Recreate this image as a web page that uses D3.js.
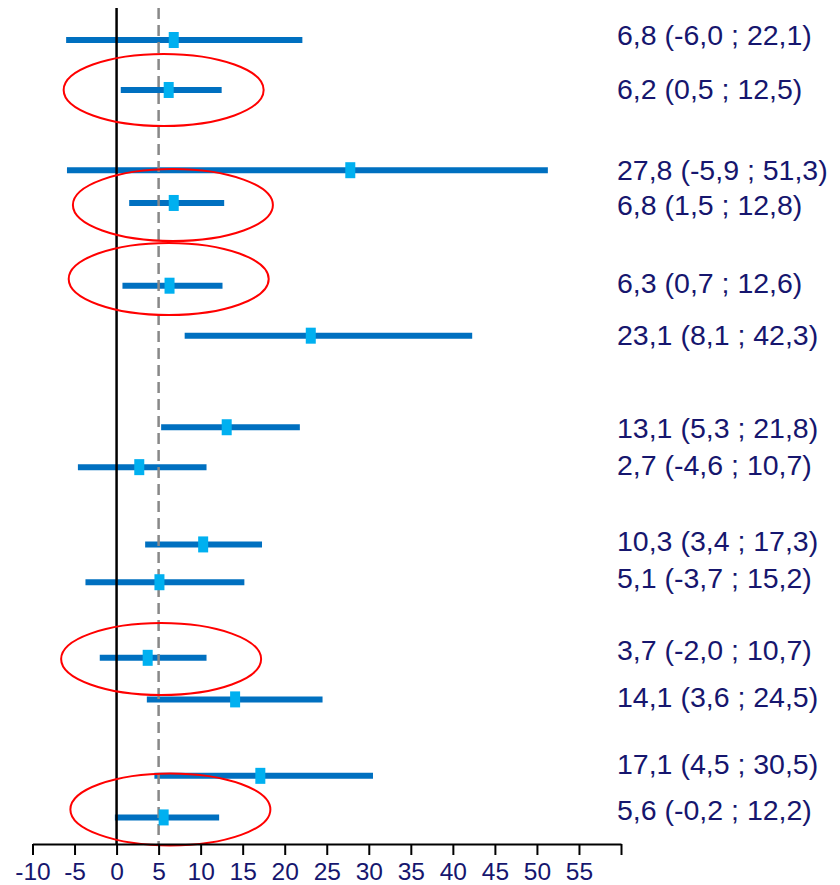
<!DOCTYPE html>
<html>
<head>
<meta charset="utf-8">
<script src="https://cdn.jsdelivr.net/npm/d3@7"></script>
<style>
  html, body { margin: 0; padding: 0; background: #fff; }
  svg { display: block; }
</style>
</head>
<body>
<script>
// Point estimates with their confidence intervals, one entry per row (top to bottom)
const estimate = [6.8, 6.2, 27.8, 6.8, 6.3, 23.1, 13.1, 2.7, 10.3, 5.1, 3.7, 14.1, 17.1, 5.6];
const lower    = [-6.0, 0.5, -5.9, 1.5, 0.7, 8.1, 5.3, -4.6, 3.4, -3.7, -2.0, 3.6, 4.5, -0.2];
const upper    = [22.1, 12.5, 51.3, 12.8, 12.6, 42.3, 21.8, 10.7, 17.3, 15.2, 10.7, 24.5, 30.5, 12.2];

// Vertical slot of each row (rows come in loose groups) and of its text
const rowSlot   = [0, 1.19, 3.10, 3.88, 5.85, 7.04, 9.22, 10.17, 12.01, 12.91, 14.71, 15.70, 17.52, 18.51];
const labelSlot = [-0.13, 1.16, 3.09, 3.92, 5.79, 7.01, 9.23, 10.11, 11.93, 12.80, 14.52, 15.64, 17.24, 18.33];

// Rows circled in red: row index, ellipse centre on the value axis and slot axis
const highlightRows = [1, 3, 4, 10, 13];
const highlightX    = [5.6, 6.7, 6.2, 5.3, 6.4];
const highlightSlot = [1.19, 3.93, 5.69, 14.74, 18.32];

// Reference value drawn as a dashed line
const referenceValue = 5;

// Axis ticks and their labels
const tickValues = [-10, -5, 0, 5, 10, 15, 20, 25, 30, 35, 40, 45, 50, 55, 60];
const tickLabels = ["-10", "-5", "0", "5", "10", "15", "20", "25", "30", "35", "40", "45", "50", "55", ""];

const W = 840, H = 885;
const axisY = 844;
const textColor = "#16166e";
// One decimal, comma as decimal mark, plain hyphen for negatives
const fmt = v => v.toFixed(1).replace(".", ",");

const svg = d3.select("body").append("svg")
  .attr("width", W).attr("height", H)
  .style("font-family", "'Liberation Sans', Arial, sans-serif");

svg.append("rect").attr("width", W).attr("height", H).attr("fill", "#fff");

const x = d3.scaleLinear().domain([-10, 60]).range([32.5, 621]);
const y = d3.scaleLinear().domain([0, 19]).range([40, 838]);

const rows = estimate.map((e, i) => ({
  est: e, lo: lower[i], hi: upper[i], slot: rowSlot[i], labelSlot: labelSlot[i]
}));

// Interval bars
svg.append("g").selectAll("line")
  .data(rows).join("line")
  .attr("x1", d => x(d.lo)).attr("x2", d => x(d.hi))
  .attr("y1", d => y(d.slot)).attr("y2", d => y(d.slot))
  .attr("stroke", "#0070c0").attr("stroke-width", 6);

// Zero line and reference line
svg.append("line")
  .attr("x1", x(0)).attr("x2", x(0)).attr("y1", 8).attr("y2", axisY)
  .attr("stroke", "#000").attr("stroke-width", 2.5);
svg.append("line")
  .attr("x1", x(referenceValue)).attr("x2", x(referenceValue)).attr("y1", 8).attr("y2", axisY)
  .attr("stroke", "#888").attr("stroke-width", 2.5).attr("stroke-dasharray", "11,6");

// Point estimate markers
svg.append("g").selectAll("rect")
  .data(rows).join("rect")
  .attr("x", d => x(d.est) - 5).attr("y", d => y(d.slot) - 8)
  .attr("width", 10).attr("height", 16)
  .attr("fill", "#00b0f0");

// Value labels on the right
svg.append("g").selectAll("text")
  .data(rows).join("text")
  .attr("x", 617).attr("y", d => y(d.labelSlot))
  .attr("dy", "0.36em")
  .attr("fill", textColor)
  .style("font-size", "28.5px")
  .text(d => `${fmt(d.est)} (${fmt(d.lo)} ; ${fmt(d.hi)})`);

// Red ellipses around highlighted rows
svg.append("g").selectAll("ellipse")
  .data(highlightRows.map((r, i) => ({ row: r, cx: highlightX[i], slot: highlightSlot[i] })))
  .join("ellipse")
  .attr("cx", d => x(d.cx)).attr("cy", d => y(d.slot))
  .attr("rx", 100).attr("ry", 36)
  .attr("fill", "none").attr("stroke", "#ff0000").attr("stroke-width", 2);

// Bottom axis
const axis = d3.axisBottom(x)
  .tickValues(tickValues)
  .tickFormat((d, i) => tickLabels[i])
  .tickSizeInner(11).tickSizeOuter(0).tickPadding(8);

const gAxis = svg.append("g").attr("transform", `translate(0,${axisY})`).call(axis);
gAxis.select(".domain").attr("stroke", "#000").attr("stroke-width", 2);
gAxis.selectAll(".tick line").attr("stroke", "#000").attr("stroke-width", 2);
gAxis.selectAll(".tick text")
  .attr("y", 18.5)
  .attr("dy", "0.71em")
  .attr("fill", textColor)
  .style("font-size", "24.5px")
  .style("font-family", "'Liberation Sans', Arial, sans-serif");
</script>
</body>
</html>
